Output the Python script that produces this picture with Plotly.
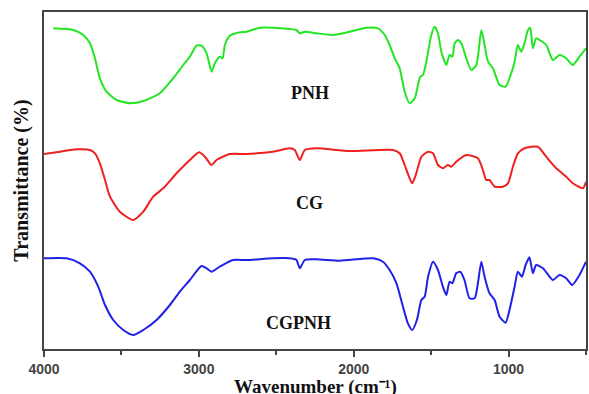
import plotly.graph_objects as go

# Wavenumber (cm^-1) and offset transmittance (arbitrary units)
pnh_wn = [3940, 3811, 3746, 3703, 3671, 3639, 3596, 3531, 3445, 3359, 3252, 3166, 3101, 3058, 3015,
          2983, 2950, 2918, 2897, 2865, 2847, 2832, 2800, 2735, 2692, 2606, 2521, 2413, 2370, 2348,
          2316, 2241, 2134, 2026, 1918, 1843, 1800, 1768, 1735, 1703, 1671, 1639, 1606, 1585, 1570,
          1553, 1531, 1499, 1477, 1456, 1434, 1402, 1381, 1363, 1348, 1327, 1305, 1273, 1241, 1208,
          1176, 1155, 1133, 1101, 1058, 1019, 994, 961, 940, 918, 897, 875, 860, 843, 822, 800, 757,
          714, 671, 628, 585, 542, 500]
pnh_t = [320.7, 319, 314, 305.7, 290.7, 270.7, 257.3, 249, 245.7, 248, 255.7, 270.7, 284, 292.3, 303.3,
         303.3, 295.7, 277.3, 285.7, 292.3, 290.7, 304, 313.3, 316.7, 317.3, 321.3, 321.3, 320, 319, 315.7,
         317.3, 315.7, 314, 317.3, 321.3, 320.7, 314, 304, 290.7, 280.7, 257.3, 245.7, 250.7, 264, 272.3,
         274, 287.3, 314, 322.3, 315.7, 297.3, 284, 294, 292.3, 305.7, 309, 305.7, 290.7, 279, 284,
         319, 304, 287.3, 280.7, 264, 262.3, 270.7, 287.3, 304, 297.3, 305.7, 319, 321.3, 300.7, 310.7, 309, 304,
         289, 294, 290.7, 284, 292.3, 300.7]

cg_wn = [4000, 3897, 3789, 3703, 3671, 3639, 3606, 3574, 3510, 3424, 3359, 3295, 3230, 3144, 3058,
         2998, 2961, 2918, 2886, 2800, 2692, 2521, 2413, 2381, 2348, 2316, 2241, 2026, 1747, 1703,
         1671, 1643, 1622, 1596, 1563, 1520, 1488, 1456, 1424, 1392, 1370, 1338, 1273, 1198, 1166,
         1144, 1123, 1090, 1037, 1004, 972, 940, 897, 811, 757, 692, 628, 585, 520, 500]
cg_t = [195, 197.3, 199.7, 199, 195.7, 185.7, 169, 152.3, 137.3, 129, 137.3, 152.3, 160.7, 175.7, 189,
        196.7, 192.3, 184, 189, 195, 195, 197.3, 200.7, 199, 189, 199, 200.7, 198, 199, 195.7,
        184, 172.3, 165.7, 175.7, 192.3, 197.3, 195.7, 184, 180.7, 184, 182.3, 187.3, 194, 190.7, 179,
        169, 169, 162.3, 162.3, 165.7, 182.3, 195.7, 200.7, 202.3, 192.3, 180.7, 172.3, 165.7, 160.7, 167.3]

cgpnh_wn = [4000, 3853, 3768, 3703, 3650, 3606, 3553, 3488, 3424, 3359, 3273, 3187, 3123, 3058, 2983,
            2950, 2918, 2865, 2779, 2692, 2521, 2413, 2370, 2348, 2316, 2241, 2090, 1875, 1811, 1768,
            1724, 1682, 1650, 1622, 1592, 1563, 1542, 1520, 1488, 1456, 1424, 1402, 1381, 1363, 1338,
            1312, 1285, 1252, 1219, 1198, 1176, 1155, 1123, 1090, 1058, 1019, 994, 961, 940, 914, 890,
            865, 843, 822, 778, 714, 671, 628, 589, 542, 500]
cgpnh_t = [90.7, 90.7, 85.7, 77.3, 62.3, 44, 29, 19, 14, 19, 29, 44, 57.3, 69, 83,
           80.7, 77.3, 82.3, 89, 89, 90.7, 90.7, 89, 80.7, 89, 89.7, 88.3, 90.7, 87.3, 79,
           65.7, 42.3, 25.7, 19, 29, 49, 52.3, 72.3, 87.3, 79, 62.3, 54, 67.3, 65.7, 75.7,
           77.3, 69, 50.7, 50.7, 65.7, 87.3, 72.3, 55.7, 49, 32.3, 26.3, 39, 62.3, 77.3, 72.3, 84,
           91.7, 75.7, 84, 80.7, 69, 74, 70.7, 64, 74, 87.3]

names = ["PNH", "CG", "CGPNH"]
label_wn = [2284, 2284, 2355]
label_t = [256, 146, 26]

series = [(pnh_wn, pnh_t, "#22e622"), (cg_wn, cg_t, "#ee2020"), (cgpnh_wn, cgpnh_t, "#2020e6")]

fig = go.Figure()
for (xw, yt, col), nm in zip(series, names):
    fig.add_trace(go.Scatter(x=xw, y=yt, mode="lines", name=nm,
                             line=dict(color=col, width=2, shape="spline", smoothing=0.6)))

for nm, lx, ly in zip(names, label_wn, label_t):
    fig.add_annotation(x=lx, y=ly, text="<b>%s</b>" % nm, showarrow=False,
                       font=dict(family="Liberation Serif", size=18, color="#111"))

# x-axis title placed below the tick labels
fig.add_annotation(xref="paper", yref="paper", x=0.5, y=-0.112, yanchor="middle",
                   text="<b>Wavenumber (cm\u207b\u00b9)</b>", showarrow=False, borderpad=0,
                   font=dict(family="Liberation Serif", size=19, color="#111"))

fig.update_layout(
    width=589, height=394,
    margin=dict(l=44, r=1, t=12, b=45),
    paper_bgcolor="white", plot_bgcolor="white",
    showlegend=False,
    xaxis=dict(range=[4000, 500], tickvals=[4000, 3000, 2000, 1000],
               ticks="outside", ticklen=6, tickwidth=2, tickcolor="#444",
               minor=dict(tickvals=[3500, 2500, 1500, 500], ticks="outside", ticklen=4,
                          tickwidth=2, tickcolor="#444"),
               showgrid=False, zeroline=False,
               showline=True, linecolor="#444", linewidth=2, mirror=True,
               tickfont=dict(family="Liberation Sans", size=14, color="#444", weight="bold")),
    yaxis=dict(range=[0, 337], showticklabels=False, ticks="",
               showgrid=False, zeroline=False,
               showline=True, linecolor="#444", linewidth=2, mirror=True,
               title=dict(text="<b>Transmittance (%)</b>", standoff=8,
                          font=dict(family="Liberation Serif", size=20, color="#111"))),
)

fig.write_html("out.html")
